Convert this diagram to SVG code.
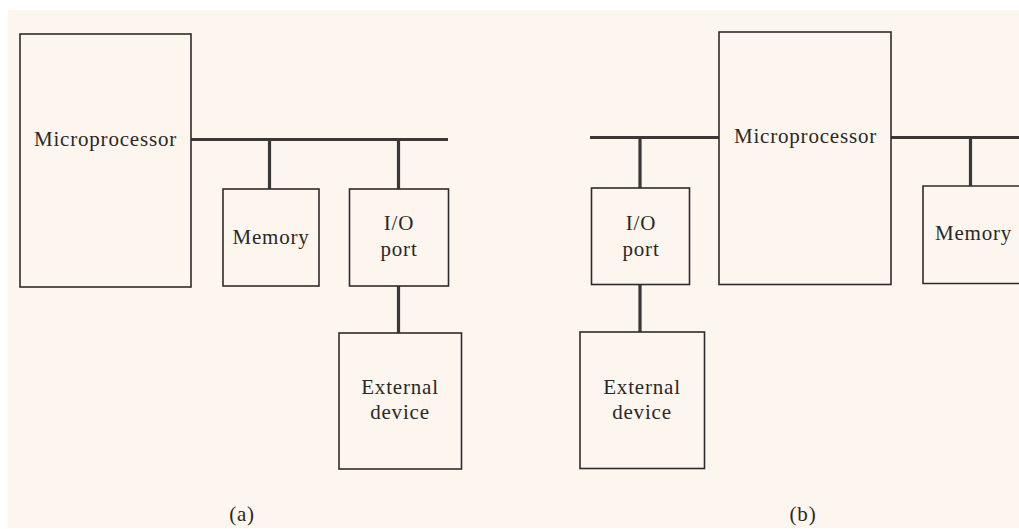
<svg xmlns="http://www.w3.org/2000/svg" width="1019" height="529" viewBox="0 0 1019 529">
<style>
.box{fill:none;stroke:#2e2c2a;stroke-width:1.6}
.bus{fill:none;stroke:#3a3836;stroke-width:3.2;stroke-linecap:butt}
.t{font-family:"Liberation Serif","Times New Roman",serif;font-size:21px;fill:#2a2826;letter-spacing:0.8px}
.c{text-anchor:middle}
</style>
<rect x="0" y="0" width="1019" height="529" fill="#ffffff"/>
<rect x="8" y="10" width="1011" height="518" fill="#fcf6ef"/>
<g id="connectors">
<path class="bus" d="M191 139.5H448M269.5 139.5V189M398.5 139.5V189M398.5 286V333"/>
<path class="bus" d="M590 137.5H719M891 137.5H1019M640 137.5V188M970.5 137.5V186M640 284.5V332"/>
</g>
<g id="a_microprocessor"><rect class="box" x="20" y="34" width="171" height="253"/><text class="t" x="34" y="145.5">Microprocessor</text></g>
<g id="a_memory"><rect class="box" x="223" y="189" width="96" height="97"/><text class="t c" x="271" y="243.5">Memory</text></g>
<g id="a_io"><rect class="box" x="349.5" y="189" width="99" height="97"/><text class="t c" x="399" y="230">I/O</text><text class="t c" x="399" y="256">port</text></g>
<g id="a_external"><rect class="box" x="339" y="333" width="122.5" height="136"/><text class="t c" x="400" y="393.5">External</text><text class="t c" x="400" y="419">device</text></g>
<g id="b_microprocessor"><rect class="box" x="719" y="32" width="172" height="252.5"/><text class="t" x="734" y="143">Microprocessor</text></g>
<g id="b_io"><rect class="box" x="591.5" y="188" width="98" height="96.5"/><text class="t c" x="641" y="230">I/O</text><text class="t c" x="641" y="256">port</text></g>
<g id="b_external"><rect class="box" x="580" y="332" width="124.5" height="136.5"/><text class="t c" x="642" y="393.5">External</text><text class="t c" x="642" y="418.5">device</text></g>
<g id="b_memory"><path class="box" d="M1022 186H923V283.5H1022"/><text class="t" x="935" y="239.5">Memory</text></g>
<text class="t c" x="242" y="521">(a)</text>
<text class="t c" x="803" y="521">(b)</text>
</svg>
